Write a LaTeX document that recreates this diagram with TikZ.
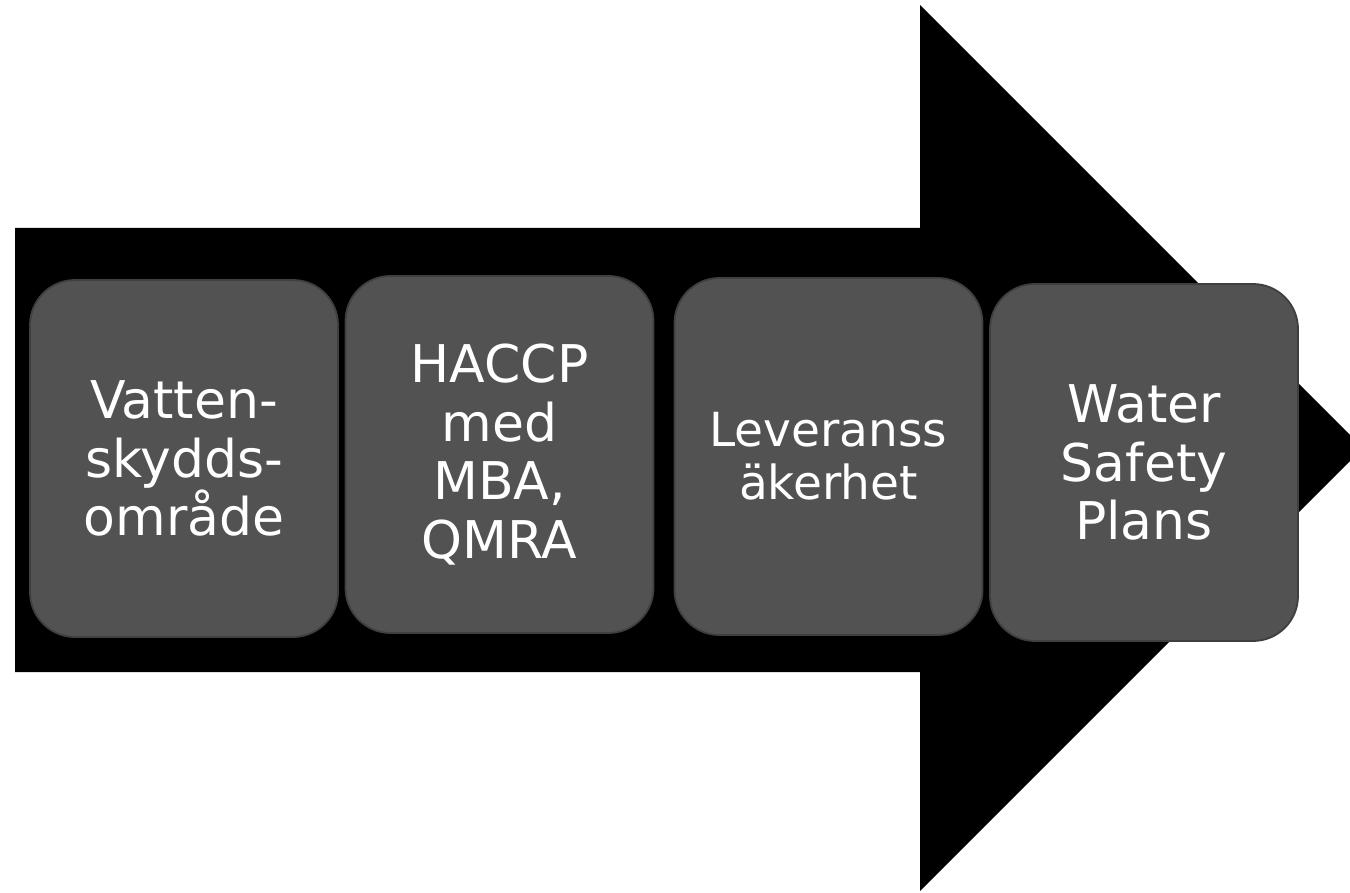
\documentclass[tikz,border=0pt]{standalone}
\usepackage{fontspec}
\setmainfont{DejaVu Sans}
\usetikzlibrary{positioning}

\definecolor{boxgray}{HTML}{525252}
\definecolor{edgegray}{HTML}{3F3F3F}

\begin{document}
\begin{tikzpicture}[
  x=1pt, y=-1pt,
  stepbox/.style={
    draw=edgegray, line width=1.8pt, fill=boxgray,
    rounded corners=45pt, text=white, align=center,
    minimum width=308pt, minimum height=357pt, inner sep=0pt,
    font=\fontsize{52}{58.5}\selectfont
  }
]
\useasboundingbox (0,0) rectangle (1350,893);

% Big arrow
\begin{scope}
\clip (0,0) rectangle (1350,893);
\fill[black] (15,228) -- (920,228) -- (920,5) -- (1363,448)
  -- (920,891) -- (920,672) -- (15,672) -- cycle;
\end{scope}

% Step 1
\node[stepbox] (vatten) at (184,458.5) {Vatten-\\skydds-\\område};

% Step 2
\node[stepbox] (haccp) at (499.5,454.5) {HACCP\\med\\MBA,\\QMRA};

% Step 3
\node[stepbox, font=\fontsize{47}{53}\selectfont] (leverans) at (828.5,456.5)
  {Leveranss\\äkerhet};

% Step 4
\node[stepbox] (wsp) at (1144,462.5) {Water\\Safety\\Plans};

\end{tikzpicture}
\end{document}
